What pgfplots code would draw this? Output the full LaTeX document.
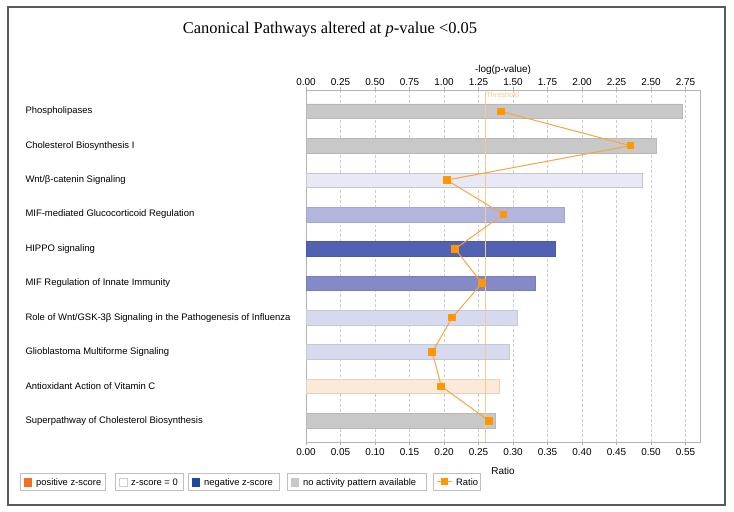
\documentclass[border=0pt]{standalone}
\usepackage{pgfplots}
\pgfplotsset{compat=1.18}
\usepackage{fontspec}
\setmainfont{Liberation Sans}
\newfontfamily\titlefont{Liberation Serif}

\definecolor{nogray}{RGB}{200,200,200}
\definecolor{zlight}{RGB}{233,233,246}
\definecolor{zmid}{RGB}{178,182,222}
\definecolor{zdark}{RGB}{82,98,178}
\definecolor{zmid2}{RGB}{132,138,200}
\definecolor{zpale}{RGB}{215,217,238}
\definecolor{peach}{RGB}{253,233,216}
\definecolor{ratiolc}{RGB}{245,165,65}
\definecolor{ratiomk}{RGB}{255,152,0}
\definecolor{legpos}{RGB}{242,112,34}
\definecolor{legneg}{RGB}{30,72,160}
\definecolor{thresh}{RGB}{250,200,140}

\begin{document}
\begin{tikzpicture}[x=1bp,y=1bp]
\useasboundingbox (0,0) rectangle (734,-512);
\draw[black!65, line width=1.2bp] (8,-7) rectangle (725,-505);
\node[font=\titlefont\fontsize{16.5}{18}\selectfont] at (330,-30)
  {Canonical Pathways altered at \textit{p}-value <0.05};

% -log(p-value) bars, top axis
\begin{axis}[
    at={(306bp,-442bp)}, anchor=south west,
    scale only axis, width=394bp, height=352bp,
    xmin=0, xmax=2.855, ymin=0.38, ymax=10.62, y dir=reverse,
    xbar, bar width=14.7bp, bar shift=0pt,
    axis line style={black!30},
    xtick={0,0.25,0.5,0.75,1,1.25,1.5,1.75,2,2.25,2.5,2.75},
    xtick pos=right, xticklabel pos=right,
    tick align=outside, major tick length=3bp,
    xtick style={black!30},
    xmajorgrids, major grid style={densely dashed, black!20},
    xticklabel style={font=\fontsize{10}{12}\selectfont, yshift=-2bp,
      /pgf/number format/.cd, fixed, fixed zerofill, precision=2, assume math mode=true},
    xlabel={-log(p-value)},
    xlabel style={font=\fontsize{10}{12}\selectfont, yshift=-3bp},
    ytick={1,2,3,4,5,6,7,8,9,10},
    yticklabels={Phospholipases, Cholesterol Biosynthesis I, Wnt/β-catenin Signaling,
      MIF-mediated Glucocorticoid Regulation, HIPPO signaling,
      MIF Regulation of Innate Immunity,
      Role of Wnt/GSK-3β Signaling in the Pathogenesis of Influenza,
      Glioblastoma Multiforme Signaling, Antioxidant Action of Vitamin C,
      Superpathway of Cholesterol Biosynthesis},
    ytick style={draw=none},
    yticklabel style={anchor=west, xshift=-281bp, font=\fontsize{9.5}{11}\selectfont},
]
\addplot[fill=nogray, draw=nogray!92!black] coordinates {(2.724,1) (2.538,2) (1.368,10)};
\addplot[fill=zlight, draw=zlight!85!black] coordinates {(2.434,3)};
\addplot[fill=zmid, draw=zmid!92!black] coordinates {(1.871,4)};
\addplot[fill=zdark, draw=zdark!92!black] coordinates {(1.806,5)};
\addplot[fill=zmid2, draw=zmid2!92!black] coordinates {(1.658,6)};
\addplot[fill=zpale, draw=zpale!92!black] coordinates {(1.532,7) (1.470,8)};
\addplot[fill=peach, draw=peach!90!black] coordinates {(1.397,9)};
\end{axis}

% Ratio line, bottom axis
\begin{axis}[
    at={(306bp,-442bp)}, anchor=south west,
    scale only axis, width=394bp, height=352bp,
    xmin=0, xmax=0.571, ymin=0.38, ymax=10.62, y dir=reverse,
    axis x line*=bottom, hide y axis,
    axis line style={-, black!30},
    xtick={0,0.05,0.1,0.15,0.2,0.25,0.3,0.35,0.4,0.45,0.5,0.55},
    tick align=outside, major tick length=3bp,
    xtick style={black!30},
    xticklabel style={font=\fontsize{10}{12}\selectfont,
      /pgf/number format/.cd, fixed, fixed zerofill, precision=2, assume math mode=true},
    xlabel={Ratio},
    xlabel style={font=\fontsize{10}{12}\selectfont, yshift=-5bp},
    clip=false,
]
\addplot[thresh, line width=0.8bp] coordinates {(0.26,0.38) (0.26,10.62)};
\node[anchor=north west, inner sep=0.5bp, yshift=-1bp, text=thresh, font=\fontsize{7.5}{8}\selectfont]
  at (axis cs:0.26,0.38) {Threshold};
\addplot[ratiolc, line width=1bp, mark=square*, mark size=3.3bp,
  mark options={fill=ratiomk, draw=ratiomk}] coordinates {
  (0.2824,1) (0.470,2) (0.204,3) (0.286,4) (0.216,5)
  (0.255,6) (0.212,7) (0.183,8) (0.196,9) (0.265,10)};
\end{axis}

% legend
\begin{scope}[font=\fontsize{9.4}{11}\selectfont]
\draw[black!25, fill=white] (20,-473) rectangle (105,-490);
\fill[legpos] (24,-477.5) rectangle (32,-486.5);
\node[anchor=base west, inner sep=0] at (36,-485) {positive z-score};
\draw[black!25, fill=white] (115,-473) rectangle (183,-490);
\draw[black!20, fill=white] (119.5,-478) rectangle (127,-486);
\node[anchor=base west, inner sep=0] at (131,-485) {z-score = 0};
\draw[black!25, fill=white] (188,-473) rectangle (279,-490);
\fill[legneg] (192,-477.5) rectangle (200,-486.5);
\node[anchor=base west, inner sep=0] at (204,-485) {negative z-score};
\draw[black!25, fill=white] (287,-473) rectangle (426,-490);
\fill[nogray] (291,-477.5) rectangle (299,-486.5);
\node[anchor=base west, inner sep=0] at (303,-485) {no activity pattern available};
\draw[black!25, fill=white] (433,-473) rectangle (480,-490);
\draw[ratiolc, line width=1bp] (437,-481.5) -- (452,-481.5);
\fill[ratiomk] (441,-478) rectangle (448,-485);
\node[anchor=base west, inner sep=0] at (456,-485) {Ratio};
\end{scope}
\end{tikzpicture}
\end{document}
